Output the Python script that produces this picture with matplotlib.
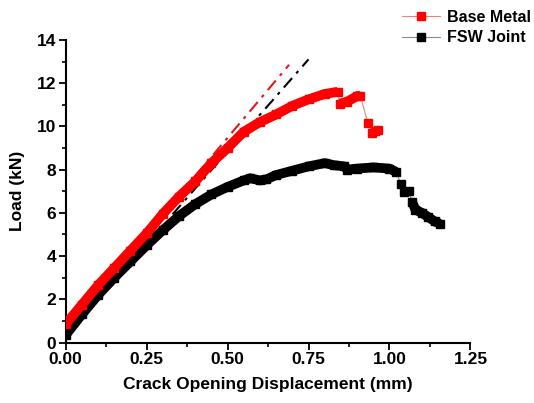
import matplotlib
matplotlib.use("Agg")
import matplotlib.pyplot as plt
from matplotlib.ticker import MultipleLocator, FormatStrFormatter

plt.rcParams['font.family'] = ['Liberation Sans', 'DejaVu Sans']
plt.rcParams['font.weight'] = 'bold'
plt.rcParams['axes.labelweight'] = 'bold'

# Base Metal (red) - crack opening displacement (mm) vs load (kN)
bm_cod = [0.0, 0.05, 0.10, 0.15, 0.20, 0.25, 0.30, 0.35, 0.40, 0.45, 0.50,
          0.55, 0.60, 0.65, 0.70, 0.75, 0.80, 0.84,
          0.847, 0.87, 0.90, 0.91,
          0.933, 0.945, 0.955, 0.964]
bm_load = [0.85, 1.75, 2.65, 3.45, 4.25, 5.05, 5.95, 6.75, 7.45, 8.3, 9.0,
           9.75, 10.2, 10.55, 10.95, 11.25, 11.5, 11.6,
           11.05, 11.15, 11.4, 11.42,
           10.15, 9.7, 9.8, 9.85]
bm_segments = [(0, 18), (18, 22)]   # dense parts, drawn as a thick band

# FSW Joint (black)
fsw_cod = [0.0, 0.05, 0.10, 0.15, 0.20, 0.25, 0.30, 0.35, 0.40, 0.45, 0.50,
           0.55, 0.57, 0.60, 0.62, 0.65, 0.70, 0.75, 0.80, 0.83, 0.86, 0.87,
           0.90, 0.95, 1.00, 1.02,
           1.035, 1.045, 1.06, 1.07, 1.08, 1.10, 1.12, 1.14, 1.155]
fsw_load = [0.35, 1.3, 2.2, 3.0, 3.75, 4.5, 5.2, 5.85, 6.4, 6.85, 7.2,
            7.5, 7.6, 7.5, 7.55, 7.75, 7.95, 8.15, 8.3, 8.2, 8.15, 8.0,
            8.05, 8.1, 8.05, 7.9,
            7.35, 6.95, 7.0, 6.5, 6.15, 6.0, 5.8, 5.6, 5.5]
fsw_segments = [(0, 26), (29, 35)]

# elastic slope lines (dash-dot)
bm_fit_x = [0.40, 0.69]
bm_fit_y = [7.7, 12.85]
fsw_fit_x = [0.33, 0.75]
fsw_fit_y = [5.93, 13.1]

fig = plt.figure(figsize=(5.34, 4.03), dpi=100)
ax = fig.add_axes([0.123, 0.15, 0.758, 0.751])

dashdot = (0, (6, 3, 1.5, 3))
ax.plot(fsw_fit_x, fsw_fit_y, color='black', lw=1.5, ls=dashdot, zorder=1)
ax.plot(bm_fit_x, bm_fit_y, color='#e8141c', lw=1.5, ls=dashdot, zorder=1)

# thin line + square markers, then the thick band over the dense part
ax.plot(fsw_cod, fsw_load, color='#8c8c8c', lw=0.8, marker='s', ms=5.2,
        mfc='black', mec='black', label='FSW Joint', zorder=2)
for a, b in fsw_segments:
    ax.plot(fsw_cod[a:b], fsw_load[a:b], color='black', lw=7, solid_capstyle='butt', zorder=3)

ax.plot(bm_cod, bm_load, color='#f08080', lw=0.8, marker='s', ms=5.2,
        mfc='red', mec='red', label='Base Metal', zorder=4)
for a, b in bm_segments:
    ax.plot(bm_cod[a:b], bm_load[a:b], color='red', lw=7, solid_capstyle='butt', zorder=5)

ax.set_xlim(0, 1.25)
ax.set_ylim(0, 14)
ax.xaxis.set_major_locator(MultipleLocator(0.25))
ax.xaxis.set_minor_locator(MultipleLocator(0.125))
ax.yaxis.set_major_locator(MultipleLocator(2))
ax.yaxis.set_minor_locator(MultipleLocator(1))
ax.xaxis.set_major_formatter(FormatStrFormatter('%.2f'))

for s in ['top', 'right']:
    ax.spines[s].set_visible(False)
for s in ['left', 'bottom']:
    ax.spines[s].set_linewidth(1.5)
ax.tick_params(which='major', direction='out', length=5, width=1.3, labelsize=12.5, pad=2)
ax.tick_params(which='minor', direction='out', length=3, width=1.2)

ax.set_xlabel('Crack Opening Displacement (mm)', fontsize=12.5, labelpad=7)
ax.set_ylabel('Load (kN)', fontsize=12.5, labelpad=8)

h, l = ax.get_legend_handles_labels()
fig.legend(h[::-1], l[::-1], loc='upper left', bbox_to_anchor=(0.735, 1.0),
           frameon=False, fontsize=11.5, handlelength=2.4, handletextpad=0.4,
           labelspacing=0.35, borderaxespad=0.2)

fig.savefig('out.png', dpi=100)
